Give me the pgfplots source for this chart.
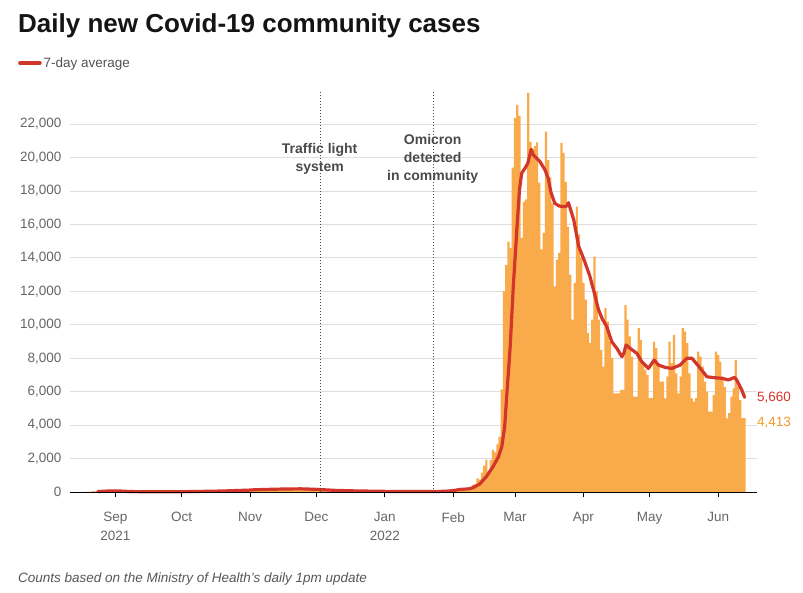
\documentclass[border=0pt]{standalone}
\usepackage{fontspec}
\setmainfont{Liberation Sans}
\usepackage{pgfplots}
\usepackage{pgfplotstable}
\pgfplotsset{compat=1.18}
\definecolor{barorange}{HTML}{F9AB4B}
\definecolor{linered}{HTML}{D2362A}
\definecolor{lblorange}{HTML}{EE9A2C}
\definecolor{gridgray}{HTML}{DEDEDE}
\definecolor{ticktext}{HTML}{666666}
\definecolor{annot}{HTML}{4A4A4A}

\pgfplotstableread{
day cases
-14 10
-13 11
-12 11
-11 21
-10 51
-9 35
-8 41
-7 62
-6 68
-5 70
-4 83
-3 83
-2 53
-1 49
0 75
1 49
2 28
3 20
4 20
5 20
6 21
7 13
8 11
9 20
10 20
11 33
12 33
13 15
14 14
15 11
16 13
17 23
18 22
19 22
20 14
21 15
22 17
23 9
24 12
25 18
26 12
27 8
28 45
29 19
30 19
31 25
32 32
33 29
34 27
35 39
36 29
37 44
38 34
39 60
40 35
41 30
42 55
43 71
44 65
45 43
46 51
47 60
48 94
49 60
50 102
51 129
52 104
53 80
54 109
55 79
56 74
57 89
58 125
59 162
60 143
61 162
62 126
63 100
64 147
65 163
66 206
67 190
68 125
69 147
70 125
71 185
72 175
73 201
74 175
75 173
76 222
77 194
78 167
79 200
80 172
81 173
82 205
83 215
84 178
85 180
86 147
87 148
88 165
89 134
90 182
91 146
92 101
93 92
94 81
95 135
96 102
97 111
98 87
99 69
100 95
101 88
102 66
103 75
104 74
105 88
106 55
107 65
108 71
109 53
110 48
111 51
112 62
113 53
114 58
115 44
116 30
117 34
118 49
119 51
120 52
121 40
122 34
123 29
124 21
125 37
126 28
127 25
128 44
129 28
130 17
131 40
132 23
133 12
134 18
135 33
136 29
137 25
138 15
139 23
140 25
141 40
142 33
143 25
144 23
145 19
146 34
147 44
148 61
149 56
150 101
151 78
152 99
153 142
154 97
155 130
156 243
157 208
158 200
159 100
160 188
161 204
162 446
163 454
164 810
165 744
166 1160
167 1573
168 1929
169 1222
170 1901
171 2522
172 2365
173 2846
174 3297
175 6137
176 12011
177 13570
178 14970
179 14590
180 19400
181 22360
182 23140
183 22500
184 15200
185 17340
186 17500
187 23860
188 20930
189 20500
190 20700
191 20900
192 18500
193 14500
194 15500
195 21550
196 19850
197 18800
198 17260
199 12300
200 13900
201 14300
202 20870
203 20270
204 18540
205 15870
206 13000
207 10300
208 12500
209 17060
210 15400
211 14000
212 12500
213 11500
214 9500
215 8900
216 10300
217 14070
218 12000
219 10300
220 8500
221 7500
222 11000
223 10190
224 9000
225 8000
226 5900
227 5900
228 5900
229 6100
230 6100
231 11180
232 10300
233 9300
234 8100
235 5700
236 5700
237 9800
238 9100
239 7700
240 7300
241 7000
242 5620
243 5620
244 8990
245 8610
246 7600
247 6600
248 6600
249 5600
250 6900
251 8990
252 7700
253 9390
254 7100
255 5900
256 6900
257 9800
258 9590
259 8900
260 7100
261 5600
262 5400
263 5620
264 8390
265 8090
266 7500
267 6600
268 6000
269 4800
270 4800
271 5800
272 8390
273 8190
274 7800
275 6900
276 6290
277 4410
278 4720
279 5700
280 6200
281 7890
282 6310
283 5500
284 4420
285 4413
}\dailycases

\pgfplotstableread{
day avg
-8 26
-5 50
-1 67
2 60
5 37
9 22
15 20
22 17
29 18
35 30
42 43
49 62
56 95
60 108
63 135
70 160
77 182
84 190
90 165
95 130
100 95
105 78
110 62
115 53
120 43
125 33
130 30
135 25
140 25
145 28
150 50
153 85
156 150
160 190
162 260
165 480
168 920
171 1510
173.5 2110
175 2710
176.3 3900
177.2 5700
178.8 8690
180.2 12280
181.8 15670
183 18060
184 19060
185.5 19360
186.8 19660
188.3 20490
189.3 20150
190.8 19950
192.3 19750
194.6 19250
196 18760
197.3 17900
199 17260
201 17100
202.9 17060
204.5 17100
205.2 17300
206 16950
207.6 16270
209.8 14700
212.5 13800
214.9 12900
217.1 11800
218.8 10900
220.5 10350
222.5 9900
224.8 8990
227.1 8590
229.4 8090
230.3 8300
231.3 8790
233.1 8590
236.2 8290
238.4 7790
241.4 7390
244 7890
246 7590
249 7450
252 7390
255.8 7590
258.8 8000
261.1 8000
264.1 7530
267.9 6890
271.6 6830
274.7 6800
277.7 6700
280.3 6850
281.4 6700
283.7 6100
285 5660
}\sevenday

\begin{document}
\begin{tikzpicture}
\path[use as bounding box] (0pt,0pt) rectangle (803pt,-592pt);
\node[anchor=base west, inner sep=0pt, font=\fontsize{26}{30}\selectfont\bfseries, text=black!92] at (18pt,-32pt) {Daily new Covid-19 community cases};
\node[anchor=base west, inner sep=0pt, font=\fontsize{13.5}{16}\selectfont\itshape, text=ticktext!85!black] at (18pt,-582pt) {Counts based on the Ministry of Health's daily 1pm update};
\begin{axis}[
  at={(70pt,-492pt)}, anchor=south west,
  scale only axis, width=687pt, height=401.4pt,
  xmin=-20.6, xmax=290.6, ymin=0, ymax=24000,
  clip=false,
  axis line style={draw=none},
  tick align=outside, major tick length=5pt,
  xtick pos=bottom, ytick pos=left,
  xtick style={black, line width=0.9pt},
  ytick style={draw=none},
  xtick={0,30,61,91,122,153,181,212,242,273},
  xticklabels={Sep\\2021,Oct,Nov,Dec,Jan\\2022,Feb,Mar,Apr,May,Jun},
  xticklabel style={align=center, font=\fontsize{13.5}{19}\selectfont, text=ticktext, yshift=-12pt},
  ytick={0,2000,...,22000},
  yticklabel style={font=\fontsize{13.5}{16}\selectfont, text=ticktext},
  scaled y ticks=false,
  /pgf/number format/fixed,
  /pgf/number format/1000 sep={,},
  /pgf/number format/assume math mode=true,
  ymajorgrids, grid style={gridgray, line width=0.8pt},
  legend style={at={(-0.0757,1.0688)}, anchor=west, draw=none, fill=none, inner sep=0pt,
    font=\fontsize{13.5}{16}\selectfont, text=ticktext!80!black},
  legend cell align=left,
  legend image code/.code={\draw[#1, line width=3.5pt] (0pt,0pt) -- (20pt,0pt);},
]
\addplot[ybar, bar width=1, bar shift=0pt, fill=barorange, draw=none, forget plot] table[x=day, y=cases] {\dailycases};
\addplot[linered, line width=3.2pt, line join=round, line cap=round, no markers] table[x=day, y=avg] {\sevenday};
\addlegendentry{7-day average}
\draw[annot, dotted, line width=1pt] (axis cs:93,0) -- (axis cs:93,24000);
\draw[annot, dotted, line width=1pt] (axis cs:144,0) -- (axis cs:144,24000);
\draw[black, line width=1pt] (axis cs:-20.6,0) -- (axis cs:290.6,0);
\node[font=\fontsize{14}{18}\selectfont\bfseries, text=annot, align=center] at (axis cs:92.5,19913) {Traffic light\\system};
\node[font=\fontsize{14}{18}\selectfont\bfseries, text=annot, align=center] at (axis cs:143.7,19913) {Omicron\\detected\\in community};
\node[anchor=west, inner sep=0pt, font=\fontsize{13.5}{16}\selectfont, text=linered] at (axis cs:290.6,5660) {5,660};
\node[anchor=west, inner sep=0pt, font=\fontsize{13.5}{16}\selectfont, text=lblorange] at (axis cs:290.6,4120) {4,413};
\end{axis}
\end{tikzpicture}
\end{document}
